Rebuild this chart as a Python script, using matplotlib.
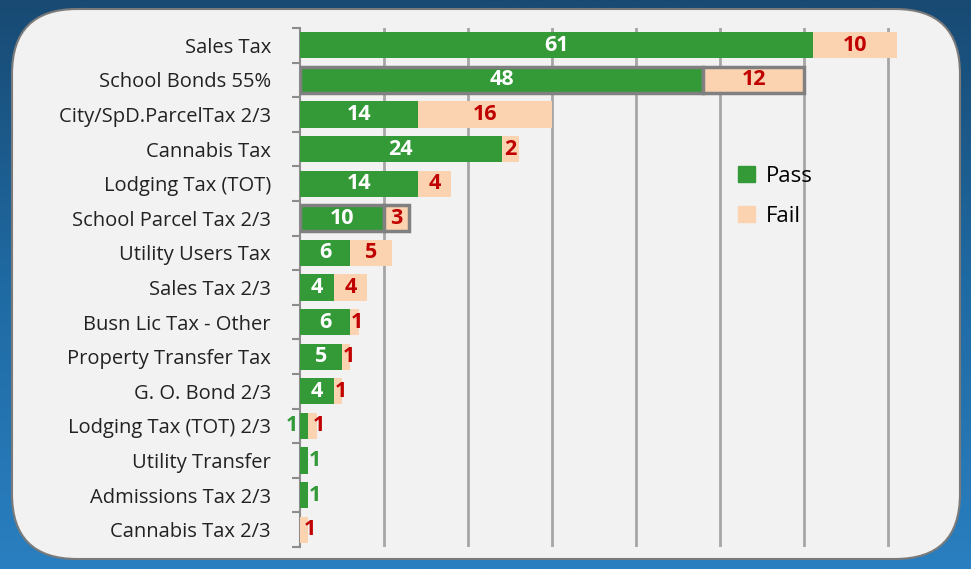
import numpy as np
import matplotlib
matplotlib.use("Agg")
import matplotlib.pyplot as plt
from matplotlib.patches import FancyBboxPatch, Patch

# data
categories = ["Sales Tax", "School Bonds 55%", "City/SpD.ParcelTax 2/3", "Cannabis Tax",
              "Lodging Tax (TOT)", "School Parcel Tax 2/3", "Utility Users Tax", "Sales Tax 2/3",
              "Busn Lic Tax - Other", "Property Transfer Tax", "G. O. Bond 2/3",
              "Lodging Tax (TOT) 2/3", "Utility Transfer", "Admissions Tax 2/3", "Cannabis Tax 2/3"]
passed = [61, 48, 14, 24, 14, 10, 6, 4, 6, 5, 4, 1, 1, 1, 0]
failed = [10, 12, 16, 2, 4, 3, 5, 4, 1, 1, 1, 1, 0, 0, 1]
outlined = ["School Bonds 55%", "School Parcel Tax 2/3"]

green = "#339a37"
peach = "#fcd3b0"
red = "#c00000"
plt.rcParams['font.family'] = ['Open Sans', 'DejaVu Sans']

W, H = 971, 569
fig = plt.figure(figsize=(W / 100, H / 100), dpi=100)

# background: blue gradient + rounded light panel, in pixel units
bg = fig.add_axes([0, 0, 1, 1])
bg.set_xlim(0, W)
bg.set_ylim(H, 0)
bg.axis("off")
grad = np.linspace(0, 1, 256).reshape(-1, 1)
cmap = matplotlib.colors.LinearSegmentedColormap.from_list("bl", ["#184a73", "#1f6aa3", "#2a7fc0"])
bg.imshow(grad, cmap=cmap, extent=[0, W, H, 0], aspect="auto", zorder=0)
bg.add_patch(FancyBboxPatch((12, 9), 948, 550, boxstyle="round,pad=0,rounding_size=65",
                            facecolor="#f2f2f2", edgecolor="#7a7a7a", lw=1.5, zorder=1))

ax = fig.add_axes([300 / W, 1 - 547 / H, 622 / W, 519 / H])
ax.patch.set_alpha(0)
n = len(categories)
y = np.arange(n)
ax.set_ylim(n - 0.5, -0.5)
ax.set_xlim(0, 74)

fs = 15.5
for i, cat in enumerate(categories):
    ec = "#808080" if cat in outlined else "none"
    lw = 2.5 if cat in outlined else 0
    if passed[i] > 0:
        ax.barh(i, passed[i], height=0.76, color=green, edgecolor=ec, linewidth=lw, zorder=3)
    if failed[i] > 0:
        ax.barh(i, failed[i], left=passed[i], height=0.76, color=peach, edgecolor=ec, linewidth=lw, zorder=3)

    # pass labels
    p, f = passed[i], failed[i]
    if p >= 3:
        ax.text(p / 2, i, str(p), color="white", fontsize=fs, fontweight="bold",
                ha="center", va="center", zorder=4)
    elif p > 0:
        if f > 0:
            ax.text(-0.2, i, str(p), color=green, fontsize=fs, fontweight="bold",
                    ha="right", va="center", zorder=4)
        else:
            ax.text(p + 0.1, i, str(p), color=green, fontsize=fs, fontweight="bold",
                    ha="left", va="center", zorder=4)
    # fail labels
    if f >= 2:
        ax.text(p + f / 2, i, str(f), color=red, fontsize=fs, fontweight="bold",
                ha="center", va="center", zorder=4)
    elif f > 0:
        x0 = p + 0.1 if p >= 3 else p + 0.5
        ax.text(x0, i, str(f), color=red, fontsize=fs, fontweight="bold",
                ha="left", va="center", zorder=4)

# vertical gridlines
ax.set_xticks(np.arange(10, 71, 10))
ax.xaxis.grid(True, color="#a6a6a6", linewidth=2, zorder=1)
ax.tick_params(axis="x", length=0, labelbottom=False)
ax.set_yticks(y)
ax.set_yticklabels(categories, fontsize=14.5, color="#222222")
ax.set_yticks(np.arange(-0.5, n, 1), minor=True)
ax.tick_params(axis="y", which="major", length=0, pad=21)
ax.tick_params(axis="y", which="minor", length=6, width=1.5, color="#8c8c8c")
for s in ["top", "right", "bottom"]:
    ax.spines[s].set_visible(False)
ax.spines["left"].set_color("#8c8c8c")
ax.spines["left"].set_linewidth(1.5)

handles = [Patch(color=green, label="Pass"), Patch(color=peach, label="Fail")]
fig.legend(handles=handles, loc="upper left", bbox_to_anchor=(718 / W, 1 - 146 / H),
           frameon=False, fontsize=16, handlelength=0.75, handleheight=0.75,
           handletextpad=0.5, labelspacing=0.85)

fig.savefig("out.png", dpi=100)
